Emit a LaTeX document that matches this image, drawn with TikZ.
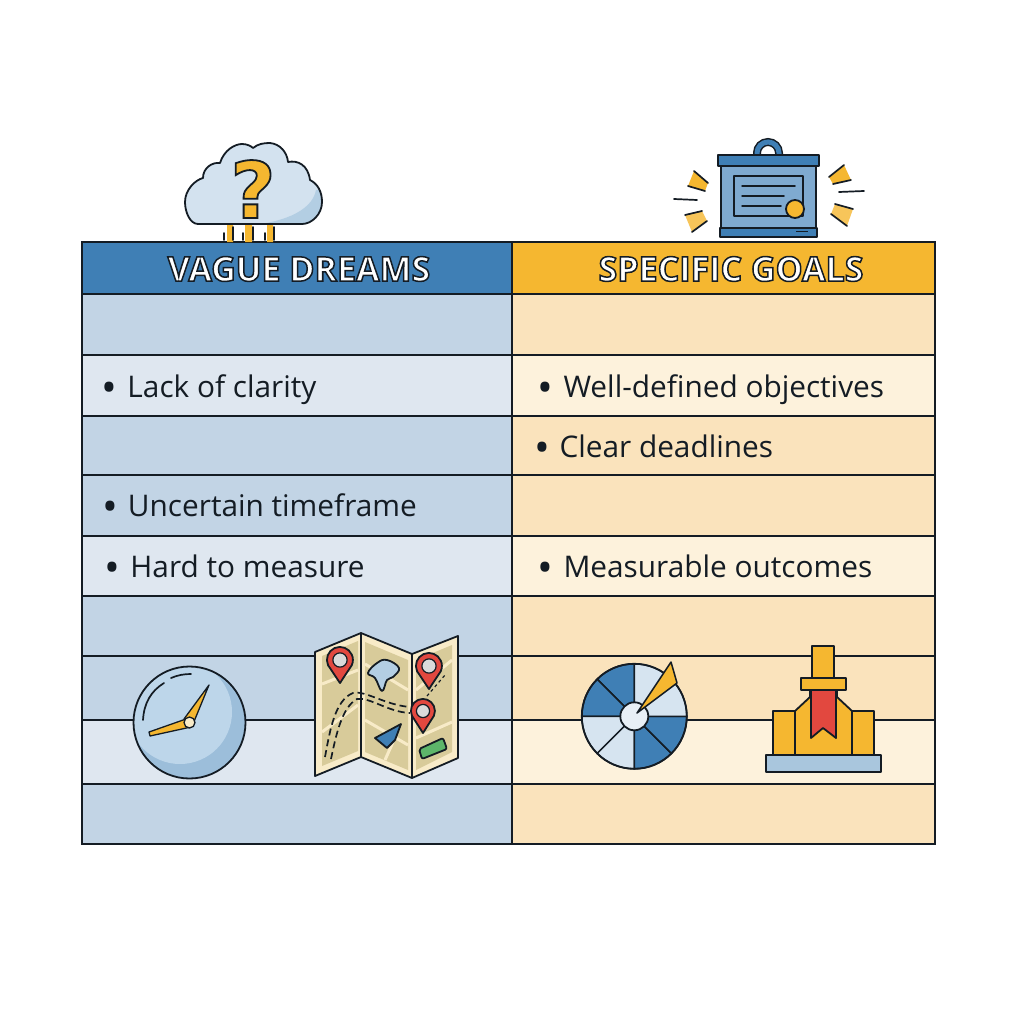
\documentclass[tikz,border=0pt]{standalone}
\usepackage{fontspec}
\setmainfont{Open Sans}
\newfontfamily\glyphfont{DejaVu Sans}
\usetikzlibrary{calc}
\definecolor{ink}{HTML}{141C24}
\definecolor{bluehead}{HTML}{3F7FB5}
\definecolor{amberhead}{HTML}{F5B730}
\definecolor{bluedark}{HTML}{C2D4E5}
\definecolor{bluelight}{HTML}{DFE7F0}
\definecolor{amberdark}{HTML}{FAE3BC}
\definecolor{amberlight}{HTML}{FDF2DC}
\definecolor{skyicon}{HTML}{D3E2EF}
\definecolor{skyshade}{HTML}{B3CEE3}
\definecolor{clockbase}{HTML}{BDD6EA}
\definecolor{clockshade}{HTML}{9CBEDA}
\definecolor{boardblue}{HTML}{7FAAD0}
\definecolor{mapcream}{HTML}{F8EBC8}
\definecolor{maptan}{HTML}{D8CB9A}
\definecolor{pinred}{HTML}{E2483F}
\definecolor{pingrey}{HTML}{DADADA}
\definecolor{mapgreen}{HTML}{5DB56A}
\definecolor{wheellight}{HTML}{D6E4F0}
\definecolor{hubfill}{HTML}{E8EFF6}
\definecolor{basefill}{HTML}{A9C6DD}
\newcommand{\outlined}[3]{{\color{#1}\special{pdf:code 2 Tr #2 w 0.08 0.11 0.14 RG}#3\special{pdf:code 0 Tr}}}
\newcommand{\bigbullet}{\raisebox{-5pt}{\fontsize{42}{42}\selectfont •}}
\tikzset{
  rowline/.style={draw=ink,line width=1.8pt},
  iconline/.style={draw=ink,line width=1.8pt,line join=round},
  thinstroke/.style={draw=ink,line width=1.7pt,line cap=round},
  rowtext/.style={anchor=base west,inner sep=0pt,text=ink,font=\fontsize{29.8}{34}\selectfont},
  headtext/.style={anchor=center,inner sep=0pt,font=\bfseries\fontsize{34}{38}\selectfont},
}
\begin{document}
\begin{tikzpicture}[x=1pt,y=-1pt]
\useasboundingbox (0,0) rectangle (1024,1024);
\fill[white] (0,0) rectangle (1024,1024);
% table fills
\fill[bluehead] (82,242) rectangle (512,294);
\fill[amberhead] (512,242) rectangle (935,294);
\foreach \a/\b in {294/355,416/536,596/720,784/844}{
  \fill[bluedark] (82,\a) rectangle (512,\b);
  \fill[amberdark] (512,\a) rectangle (935,\b);}
\foreach \a/\b in {355/416,536/596,720/784}{
  \fill[bluelight] (82,\a) rectangle (512,\b);
  \fill[amberlight] (512,\a) rectangle (935,\b);}
\foreach \y in {294,355,416,475,536,596,656,720,784}{\draw[rowline] (82,\y) -- (935,\y);}
\draw[rowline] (82,242) rectangle (935,844);
\draw[rowline] (512,242) -- (512,844);
% headers
\node[headtext] (hleft) at (299,269) {\outlined{white}{1.5}{VAGUE DREAMS}};
\node[headtext] (hright) at (731,269) {\outlined{white}{1.5}{SPECIFIC GOALS}};
% rows
\node[rowtext] (a1) at (101,397) {\bigbullet\hspace{10.5pt}Lack of clarity};
\node[rowtext] (a2) at (102,516) {\bigbullet\hspace{10pt}Uncertain timeframe};
\node[rowtext] (a3) at (104,577) {\bigbullet\hspace{10.5pt}Hard to measure};
\node[rowtext] (b1) at (537,397) {\bigbullet\hspace{10.5pt}Well-defined objectives};
\node[rowtext] (b2) at (534,457) {\bigbullet\hspace{9.5pt}Clear deadlines};
\node[rowtext] (b3) at (537,577) {\bigbullet\hspace{10.5pt}Measurable outcomes};
% cloud icon
\fill[amberhead] (227,222) rectangle (233,242) (245,222) rectangle (252,242) (267,222) rectangle (273,242);
\foreach \x/\t in {224/233,233/227,243/233,253/227,265/233,274/227}{\draw[thinstroke] (\x,\t) -- (\x,240);}
\def\cloudpath{(198,224) .. controls (190,224) and (185,212) .. (185,202) .. controls (185,190) and (195,180) .. (203,178) .. controls (203,168) and (212,162) .. (220,163) .. controls (224,150) and (235,144) .. (242,144) .. controls (247,144) and (251,146) .. (253,148) .. controls (258,144) and (263,143) .. (270,143) .. controls (280,144) and (287,152) .. (288,162) .. controls (298,160) and (308,165) .. (310,180) .. controls (318,184) and (322,192) .. (322,202) .. controls (322,214) and (312,224) .. (302,224) -- cycle}
\fill[skyicon] \cloudpath;
\begin{scope}
  \clip \cloudpath;
  \fill[skyshade] (240,226) .. controls (280,224) and (312,212) .. (316,190) -- (330,190) -- (330,230) -- (240,230) -- cycle;
\end{scope}
\draw[iconline] \cloudpath;
\node[anchor=center,inner sep=0pt,font=\glyphfont\bfseries\fontsize{78}{90}\selectfont] (qm) at (253,189) {\outlined{amberhead}{1.8}{?}};
% certificate icon
\draw[draw=ink,line width=8pt] (757,156) -- (757,153) arc[start angle=180,end angle=360,radius=11] -- (779,156);
\draw[draw=bluehead,line width=5pt] (757,156) -- (757,153) arc[start angle=180,end angle=360,radius=11] -- (779,156);
\draw[iconline,fill=boardblue] (721,166) rectangle (816,228);
\draw[iconline,fill=bluehead] (718,155) rectangle (819,166);
\draw[iconline,fill=bluehead] (720,228) rectangle (817,237);
\draw[iconline,line width=1.4pt] (734,176) rectangle (803,216);
\draw[thinstroke,line width=1.5pt] (742,186) -- (795,186);
\draw[thinstroke,line width=1.5pt] (742,196) -- (784,196);
\draw[thinstroke,line width=1.5pt] (742,206) -- (781,206);
\draw[iconline,fill=amberhead] (795,209) circle[radius=9];
\draw[ink,line width=1pt] (796,232) -- (808,232);
% sparks
\fill[amberhead] (694,171) -- (708,183) -- (705,191) -- (688,186) -- cycle;
\fill[amberhead!80!white] (685,215) -- (702,211) -- (707,221) -- (692,232) -- cycle;
\fill[amberhead] (829,177) -- (844,165) -- (851,180) -- (833,184) -- cycle;
\fill[amberhead!80!white] (835,204) -- (853,209) -- (847,226) -- (831,214) -- cycle;
\draw[thinstroke] (694,171) -- (708,183) (688,186) -- (705,191);
\draw[thinstroke] (685,215) -- (702,211) (692,232) -- (707,221);
\draw[thinstroke] (829,177) -- (844,165) (833,184) -- (851,180);
\draw[thinstroke] (835,204) -- (853,209) (831,214) -- (847,226);
\draw[thinstroke] (674,199) -- (697,200);
\draw[thinstroke] (839,192) -- (864,191);
% clock
\fill[clockshade] (189.5,722.5) circle[radius=56];
\begin{scope}
  \clip (189.5,722.5) circle[radius=56];
  \fill[clockbase] (180,712) circle[radius=52];
\end{scope}
\draw[iconline] (189.5,722.5) circle[radius=56];
\draw[thinstroke] (143,720) .. controls (144,703) and (151,691) .. (164,683);
\draw[thinstroke] (171,678) .. controls (178,675) and (184,674) .. (191,674);
\draw[iconline,line width=1.3pt,fill=amberhead] (149,732) -- (186,719) -- (191,727) -- (150,736) -- cycle;
\draw[iconline,line width=1.3pt,fill=amberhead] (209,685) -- (184,719) -- (193,724) -- cycle;
\draw[iconline,line width=1.3pt,fill=mapcream] (189.5,722.5) circle[radius=5.5];
% map
\fill[mapcream] (315,652) -- (361,633) -- (412,654) -- (458,636) -- (458,758) -- (412,778) -- (361,757) -- (315,776) -- cycle;
\fill[maptan] (322,656) -- (358,641) -- (358,751) -- (322,766) -- cycle;
\fill[maptan] (365,642) -- (408,660) -- (408,770) -- (365,752) -- cycle;
\fill[maptan] (416,660) -- (452,645) -- (452,752) -- (416,770) -- cycle;
\draw[mapcream,line width=3pt] (322,684) -- (358,670) (322,732) -- (358,705) (365,664) -- (408,690) (365,720) -- (408,745) (393,742) -- (385,760) (416,690) -- (452,660) (416,738) -- (452,722);
\draw[iconline] (315,652) -- (361,633) -- (412,654) -- (458,636) -- (458,758) -- (412,778) -- (361,757) -- (315,776) -- cycle;
\draw[iconline] (361,633) -- (361,757) (412,654) -- (412,778);
\draw[ink,line width=1.7pt,dash pattern=on 7pt off 4pt] (325,757) .. controls (330,730) and (335,700) .. (353,693) .. controls (365,690) and (385,705) .. (410,707);
\draw[ink,line width=1.7pt,dash pattern=on 7pt off 4pt] (331,759) .. controls (336,735) and (342,707) .. (357,699) .. controls (370,697) and (388,712) .. (410,713);
\draw[ink,line width=1.2pt,dash pattern=on 3pt off 3pt] (427,696) -- (445,675);
\draw[iconline,fill=skyshade] plot[smooth cycle,tension=0.7] coordinates {(368,673) (377,663) (387,660) (399,668) (393,677) (387,680) (382,691) (375,678)};
\draw[iconline,fill=bluehead] (375,738) -- (401,724) -- (395,740) -- (387,748) -- cycle;
\draw[iconline,fill=mapgreen,rounded corners=2pt] (419,749) -- (443,738) -- (447,749) -- (422,759) -- cycle;
\foreach \px/\py/\r/\t in {340/660/13/683, 429/666/13/689, 423/711/12/733}{
  \draw[iconline,fill=pinred] (\px,\t) -- ({\px-\r*0.92},{\py+\r*0.4}) arc[start angle=156,end angle=384,radius=\r] -- cycle;
  \draw[iconline,line width=1.2pt,fill=pingrey] (\px,\py) circle[radius=\r*0.55];
}
% wheel
\foreach \s/\c in {90/bluehead,135/bluehead,180/wheellight,225/wheellight,270/bluehead,315/bluehead,0/wheellight,45/wheellight}{
  \draw[iconline,line width=1.5pt,fill=\c] (634.3,716.3) -- ++({52.5*cos(\s)},{-52.5*sin(\s)}) arc[start angle=-\s,end angle=-\s-45,radius=52.5] -- cycle;
}
\draw[iconline] (634.3,716.3) circle[radius=52.5];
\draw[iconline,fill=hubfill] (634.3,716.3) circle[radius=14];
\draw[iconline,line width=1.5pt,fill=amberhead] (637,713) -- (671,662) -- (677,683) -- cycle;
% monument
\draw[iconline,fill=amberhead] (773,711) rectangle (795,755);
\draw[iconline,fill=amberhead] (852,711) rectangle (874,755);
\draw[iconline,fill=amberhead] (795,755) -- (795,711) -- (810,697) -- (810,688) -- (837,688) -- (837,697) -- (852,711) -- (852,755) -- cycle;
\draw[iconline,fill=amberhead] (812,646) rectangle (834,678);
\draw[iconline,fill=pinred] (811,690) -- (836,690) -- (836,738) -- (823,728) -- (811,738) -- cycle;
\draw[iconline,fill=amberhead] (801,678) rectangle (846,690);
\draw[iconline,fill=basefill] (766,755) rectangle (881,772);
\end{tikzpicture}
\end{document}
